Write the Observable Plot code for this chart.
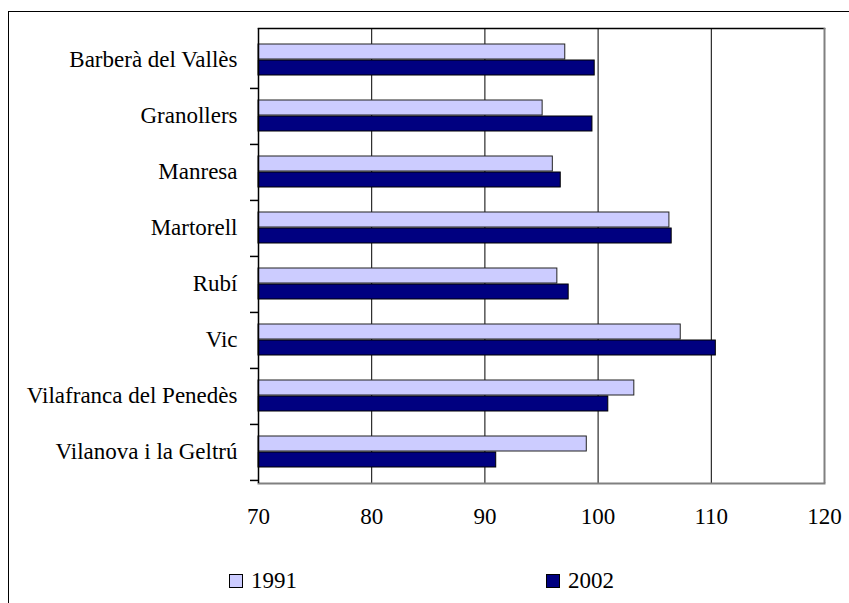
<!DOCTYPE html>
<html>
<head>
<meta charset="utf-8">
<script src="https://cdn.jsdelivr.net/npm/d3@7"></script>
<script src="https://cdn.jsdelivr.net/npm/@observablehq/plot@0.6"></script>
<style>
  html, body { margin: 0; padding: 0; background: #fff; overflow: hidden; width: 849px; height: 603px; }
  #wrap { position: relative; width: 849px; height: 603px; font-family: 'Liberation Serif', 'Times New Roman', serif; }
  #outer { position: absolute; left: 8px; top: 11px; width: 900px; height: 700px; border-top: 1.5px solid #000; border-left: 1.5px solid #000; }
  #chart { position: absolute; left: 0; top: 0; }
  #chart svg text { font-family: 'Liberation Serif', 'Times New Roman', serif; }
  .leg { position: absolute; top: 568px; font-size: 23px; line-height: 26px; display: flex; align-items: center; font-family: 'Liberation Serif', 'Times New Roman', serif; }
  .sw { width: 12px; height: 12px; border: 1px solid #000; margin-right: 8px; }
</style>
</head>
<body>
<div id="wrap">
  <div id="outer"></div>
  <div id="chart"></div>
  <div class="leg" style="left:229px"><span class="sw" style="background:#CCCCFF"></span><span>1991</span></div>
  <div class="leg" style="left:546px"><span class="sw" style="background:#000080"></span><span>2002</span></div>
</div>
<script>
const categories = ["Barberà del Vallès", "Granollers", "Manresa", "Martorell", "Rubí", "Vic", "Vilafranca del Penedès", "Vilanova i la Geltrú"];
const values1991 = [97.1, 95.1, 96.0, 106.3, 96.4, 107.3, 103.2, 99.0];
const values2002 = [99.7, 99.5, 96.7, 106.5, 97.4, 110.4, 100.9, 91.0];
const xTicks = [70, 80, 90, 100, 110, 120];

const rows = categories.map((c, i) => ({cat: c, v1991: values1991[i], v2002: values2002[i]}));
const font = "'Liberation Serif', 'Times New Roman', serif";
const bandStep = (483 - 28) / categories.length;

const chart = Plot.plot({
  width: 849,
  height: 545,
  marginLeft: 258,
  marginRight: 25,
  marginTop: 28,
  marginBottom: 62,
  style: {fontFamily: font, fontSize: "23px", color: "#000", background: "transparent"},
  x: {domain: [xTicks[0], xTicks[xTicks.length - 1]], ticks: xTicks, label: null},
  y: {domain: categories, paddingInner: 0.4376, paddingOuter: 0.2188, label: null},
  marks: [
    Plot.ruleX(xTicks.slice(1, -1), {stroke: "#000", strokeWidth: 1}),
    Plot.barX(rows, {y: "cat", x1: xTicks[0], x2: "v1991", insetBottom: 16, fill: "#CCCCFF", stroke: "#222", strokeWidth: 1}),
    Plot.barX(rows, {y: "cat", x1: xTicks[0], x2: "v2002", insetTop: 16, fill: "#000080", stroke: "#000", strokeWidth: 1}),
    Plot.frame({anchor: "top", stroke: "#000", strokeWidth: 1.5}),
    Plot.frame({anchor: "bottom", stroke: "#808080", strokeWidth: 2}),
    Plot.ruleX([xTicks[xTicks.length - 1]], {stroke: "#808080", strokeWidth: 2}),
    Plot.ruleX([xTicks[0]], {stroke: "#000", strokeWidth: 1.5}),
    Plot.axisY({tickSize: 0, tickPadding: 21, fontSize: 23}),
    Plot.axisY({tickSize: 8, tickFormat: () => "", dy: bandStep / 2, stroke: "#000", strokeWidth: 1.5}),
    Plot.axisX({ticks: xTicks, tickSize: 0, tickPadding: 24, fontSize: 23, tickFormat: d => String(d)})
  ]
});
document.getElementById("chart").appendChild(chart);
</script>
</body>
</html>
